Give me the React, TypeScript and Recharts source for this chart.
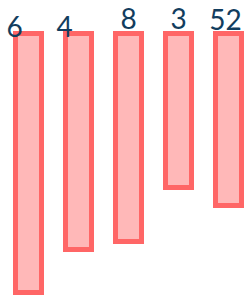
import React from 'react';
import { BarChart, Bar, XAxis, YAxis, LabelList } from 'recharts';

const categories = ['6', '4', '8', '3', '52'];
const values = [25.9, 21.6, 20.8, 15.4, 17.2];

// label nudges per bar [dx, dy from bar top]
const labelNudge = [
  [-14, 3],
  [-14, 3],
  [0, -5],
  [0, -5],
  [-3, -4],
];

const data = categories.map((name, i) => ({ name, value: values[i] }));

function TopLabel(props: any) {
  const { x, y, width, height, value, index } = props;
  const top = Math.min(y, y + height);
  const [dx, dy] = labelNudge[index] || [0, -6];
  return (
    <text
      x={x + width / 2 + dx}
      y={top + dy}
      textAnchor="middle"
      fill="#123d5e"
      fontFamily="Lato, sans-serif"
      fontSize={28}
    >
      {value}
    </text>
  );
}

export default function App() {
  return (
    <div style={{ position: 'absolute', left: 0, top: 0, width: 246, height: 296, overflow: 'hidden', background: '#fff' }}>
      <BarChart
        width={254}
        height={296}
        data={data}
        margin={{ top: 33.5, right: 0.5, bottom: 3.5, left: 3.5 }}
      >
        <XAxis dataKey="name" hide />
        <YAxis hide reversed domain={[0, 25.9]} />
        <Bar
          dataKey="value"
          barSize={26}
          fill="#ffb8b8"
          stroke="#ff6666"
          strokeWidth={5}
          isAnimationActive={false}
        >
          <LabelList dataKey="name" content={<TopLabel />} />
        </Bar>
      </BarChart>
    </div>
  );
}
